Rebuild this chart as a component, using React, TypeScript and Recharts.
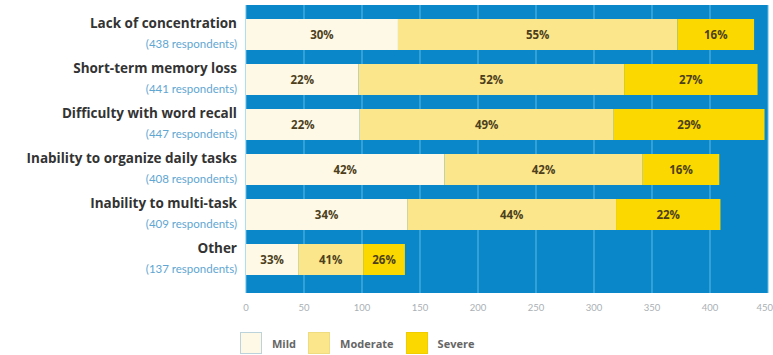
import { BarChart, Bar, XAxis, YAxis, CartesianGrid, LabelList, Legend } from 'recharts'

const categories = [
  'Lack of concentration',
  'Short-term memory loss',
  'Difficulty with word recall',
  'Inability to organize daily tasks',
  'Inability to multi-task',
  'Other',
]
const respondents = [438, 441, 447, 408, 409, 137]

// segment lengths in respondents
const mild = [131, 97, 98, 171, 139, 45]
const moderate = [241, 229, 219, 171, 180, 56]
const severe = [66, 115, 130, 66, 90, 36]

// printed percentages
const mildPct = [30, 22, 22, 42, 34, 33]
const moderatePct = [55, 52, 49, 42, 44, 41]
const severePct = [16, 27, 29, 16, 22, 26]

const xTicks = [0, 50, 100, 150, 200, 250, 300, 350, 400, 450]

const series = [
  { key: 'mild', pct: 'mildPct', name: 'Mild', fill: '#fdf9e6', border: '#bcd3dc' },
  { key: 'moderate', pct: 'moderatePct', name: 'Moderate', fill: '#fbe68c', border: '#f0dc80' },
  { key: 'severe', pct: 'severePct', name: 'Severe', fill: '#fad800', border: '#f0cc00' },
]

const data = categories.map((c, i) => ({
  name: c,
  mild: mild[i],
  moderate: moderate[i],
  severe: severe[i],
  mildPct: mildPct[i],
  moderatePct: moderatePct[i],
  severePct: severePct[i],
}))

const FONT = '"Open Sans", Lato, sans-serif'
const SUB_FONT = 'Lato, "Open Sans", sans-serif'

function CategoryTick({ x, y, payload }: any) {
  const i = categories.indexOf(payload.value)
  return (
    <g>
      <text x={x} y={y - 12} textAnchor="end" dominantBaseline="central" fontFamily={FONT} fontWeight={700} fontSize={13.5} fill="#333">
        {payload.value}
      </text>
      <text x={x} y={y + 9} textAnchor="end" dominantBaseline="central" fontFamily={SUB_FONT} fontSize={11.5} fill="#5fa6d2">
        ({respondents[i]} respondents)
      </text>
    </g>
  )
}

function LegendBox() {
  return (
    <div style={{ display: 'flex', alignItems: 'center', fontFamily: FONT, fontSize: 11, fontWeight: 700, color: '#666' }}>
      {series.map((s) => (
        <div key={s.key} style={{ display: 'flex', alignItems: 'center', marginRight: 12 }}>
          <span style={{ display: 'inline-block', width: 22, height: 22, background: s.fill, border: `1px solid ${s.border}`, boxSizing: 'border-box', marginRight: 10 }} />
          <span>{s.name}</span>
        </div>
      ))}
    </div>
  )
}

export default function App() {
  return (
    <div style={{ position: 'absolute', left: 0, top: 0, width: 773, height: 355, background: '#fff' }}>
      <BarChart
        width={773}
        height={355}
        data={data}
        layout="vertical"
        margin={{ top: 5, right: 5, bottom: 10, left: 0 }}
      >
        <CartesianGrid fill="#0a87c9" fillOpacity={1} stroke="#5cbce8" strokeWidth={1} horizontal={false} />
        <XAxis
          type="number"
          domain={[0, 450]}
          ticks={xTicks}
          height={30}
          axisLine={false}
          tickLine={false}
          tickMargin={5}
          tick={{ fontSize: 9.5, fill: '#aab0b5', fontFamily: SUB_FONT }}
        />
        <YAxis
          type="category"
          dataKey="name"
          width={246}
          axisLine={false}
          tickLine={false}
          tickMargin={3}
          padding={{ top: 7, bottom: 11 }}
          tick={<CategoryTick />}
        />
        <Legend
          verticalAlign="bottom"
          height={22}
          content={<LegendBox />}
          wrapperStyle={{ left: 240, top: 332, bottom: 'auto', width: 300 }}
        />
        {series.map((s) => (
          <Bar key={s.key} dataKey={s.key} name={s.name} stackId="a" fill={s.fill} barSize={31} isAnimationActive={false}>
            <LabelList
              dataKey={s.pct}
              position="center"
              formatter={(v: any) => `${v}%`}
              style={{ fontSize: 11.5, fontWeight: 700, fill: '#4d3f1c', fontFamily: FONT }}
            />
          </Bar>
        ))}
      </BarChart>
    </div>
  )
}
